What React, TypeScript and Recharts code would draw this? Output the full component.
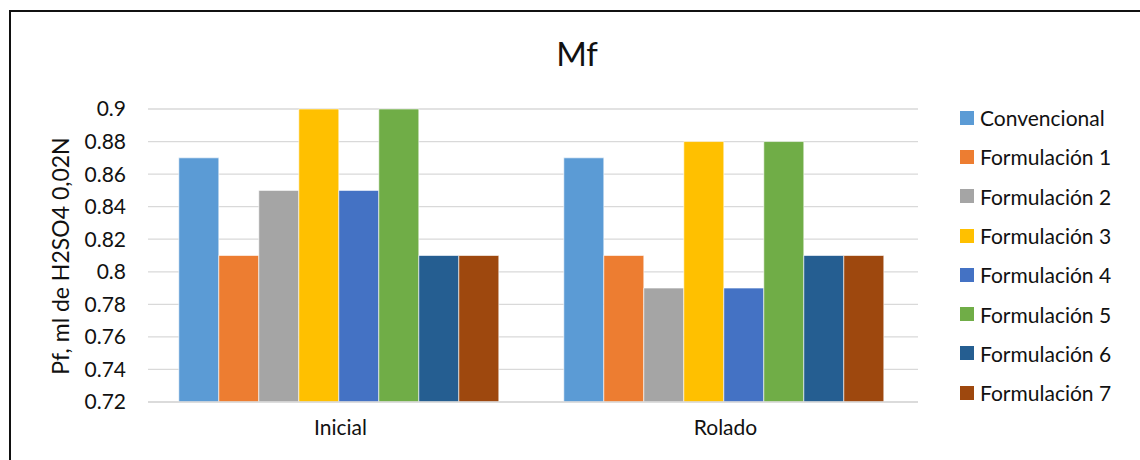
import React from "react";
import { BarChart, Bar, XAxis, YAxis, CartesianGrid } from "recharts";

const categories = ["Inicial", "Rolado"];
const seriesNames = [
  "Convencional",
  "Formulación 1",
  "Formulación 2",
  "Formulación 3",
  "Formulación 4",
  "Formulación 5",
  "Formulación 6",
  "Formulación 7",
];
const inicialValues = [0.87, 0.81, 0.85, 0.9, 0.85, 0.9, 0.81, 0.81];
const roladoValues = [0.87, 0.81, 0.79, 0.88, 0.79, 0.88, 0.81, 0.81];
const yTicks = [0.72, 0.74, 0.76, 0.78, 0.8, 0.82, 0.84, 0.86, 0.88, 0.9];
const colors = [
  "#5B9BD5",
  "#ED7D31",
  "#A5A5A5",
  "#FFC000",
  "#4472C4",
  "#70AD47",
  "#255E91",
  "#9E480E",
];

const valuesByCategory = [inicialValues, roladoValues];
const data = categories.map((name, ci) => {
  const row: Record<string, any> = { name };
  seriesNames.forEach((s, si) => {
    row["s" + si] = valuesByCategory[ci][si];
  });
  return row;
});

const FONT = "Lato, 'Open Sans', sans-serif";
const INK = "#111";

export default function App() {
  return (
    <div
      style={{
        position: "absolute",
        left: 0,
        top: 0,
        width: 1140,
        height: 460,
        background: "#fff",
        overflow: "hidden",
        fontFamily: FONT,
        color: INK,
      }}
    >
      {/* outer frame, only left and top edges fall inside the view */}
      <div
        style={{
          position: "absolute",
          left: 9,
          top: 10,
          width: 1200,
          height: 500,
          borderLeft: "2px solid #111",
          borderTop: "2px solid #111",
        }}
      />
      <div style={{ position: "absolute", left: 0, top: 0 }}>
        <BarChart
          width={1140}
          height={460}
          data={data}
          margin={{ top: 109, right: 222, bottom: 28, left: 68 }}
          barGap={0}
          barCategoryGap="8%"
        >
          <CartesianGrid vertical={false} stroke="#d9d9d9" strokeWidth={1.3} />
          <XAxis
            dataKey="name"
            height={30}
            axisLine={{ stroke: "#d9d9d9", strokeWidth: 1.3 }}
            tickLine={false}
            tickSize={0}
            tickMargin={18}
            tick={{ fill: INK, fontSize: 21, fontFamily: FONT }}
          />
          <YAxis
            width={80}
            domain={[0.72, 0.9]}
            ticks={yTicks}
            tickFormatter={(v: number) => String(v)}
            axisLine={false}
            tickLine={false}
            tickSize={0}
            tickMargin={22}
            tick={{ fill: INK, fontSize: 21, fontFamily: FONT }}
          />
          {seriesNames.map((s, i) => (
            <Bar
              key={s}
              dataKey={"s" + i}
              name={s}
              fill={colors[i]}
              stroke="#fff"
              strokeWidth={0.6}
              isAnimationActive={false}
            />
          ))}
        </BarChart>
      </div>
      <div
        style={{
          position: "absolute",
          left: 0,
          width: 1154,
          top: 33,
          textAlign: "center",
          fontSize: 33,
        }}
      >
        Mf
      </div>
      <div
        style={{
          position: "absolute",
          left: 60,
          top: 256,
          transform: "translate(-50%, -50%) rotate(-90deg)",
          whiteSpace: "nowrap",
          fontSize: 23,
        }}
      >
        Pf, ml de H2SO4 0,02N
      </div>
      {/* legend */}
      <div style={{ position: "absolute", left: 960, top: 98, fontSize: 21 }}>
        {seriesNames.map((s, i) => (
          <div
            key={s}
            style={{ display: "flex", alignItems: "center", height: 39.3 }}
          >
            <span
              style={{
                width: 14,
                height: 14,
                background: colors[i],
                marginRight: 6,
                display: "inline-block",
              }}
            />
            <span>{s}</span>
          </div>
        ))}
      </div>
    </div>
  );
}
